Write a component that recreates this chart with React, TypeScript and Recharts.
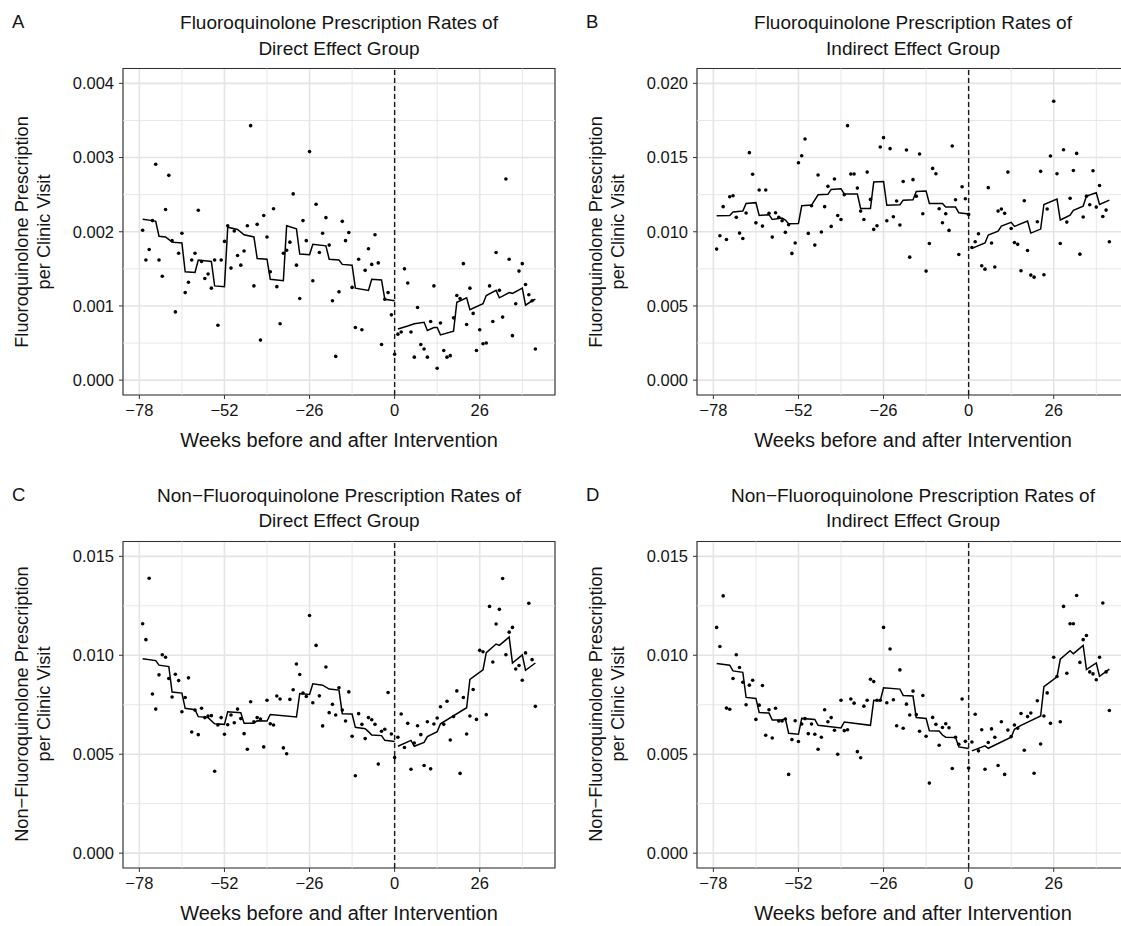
import { ComposedChart, Scatter, Line, XAxis, YAxis, CartesianGrid, ReferenceLine, ReferenceArea } from 'recharts';

// weeks relative to the intervention, one observation per week
const weeks = Array.from({ length: 121 }, (_, i) => i - 77);
const xTicks = [-78, -52, -26, 0, 26];
const xMinor = [-65, -39, -13, 13, 39];

// ─── observed weekly rates ─────────────────────────────────────
const fqDirect = [
  0.00202, 0.00162, 0.00176, 0.00215, 0.00291, 0.00162, 0.0014, 0.0023, 0.00276, 0.00188,
  0.00092, 0.00171, 0.00198, 0.00118, 0.00132, 0.00162, 0.00171, 0.00229, 0.0016, 0.00137,
  0.00143, 0.00124, 0.00162, 0.00074, 0.00162, 0.00187, 0.00208, 0.00151, 0.00201, 0.00168,
  0.00155, 0.00174, 0.00208, 0.00343, 0.00127, 0.0021, 0.00054, 0.00222, 0.00193, 0.00146,
  0.00231, 0.00126, 0.00076, 0.00171, 0.00175, 0.00186, 0.00251, 0.00155, 0.0011, 0.00215,
  0.00188, 0.00308, 0.00134, 0.00237, 0.00172, 0.00198, 0.00219, 0.00182, 0.00107, 0.00032,
  0.00119, 0.00214, 0.00188, 0.00199, 0.00125, 0.00071, 0.00163, 0.00068, 0.00148, 0.00177,
  0.00156, 0.00196, 0.00158, 0.00048, 0.00109, 0.00118, 0.00088,
  0.00035, 0.00062, 0.00065, 0.0015, 0.00131, 0.00065, 0.00031, 0.00098, 0.00048, 0.00042,
  0.00031, 0.00079, 0.00127, 0.00016, 0.00077, 0.0004, 0.00031, 0.00033, 0.00084, 0.00114,
  0.0011, 0.00157, 0.00075, 0.00124, 0.0009, 0.0004, 0.00068, 0.00049, 0.0005, 0.00127,
  0.00079, 0.00172, 0.00121, 0.00085, 0.00271, 0.00163, 0.0006, 0.00103, 0.00147, 0.00157,
  0.00129, 0.00115, 0.00107, 0.00042,
];

const fqIndirect = [
  0.00883, 0.00973, 0.01169, 0.00948, 0.01236, 0.01243, 0.01097, 0.00991, 0.00955, 0.01126,
  0.01533, 0.01387, 0.0106, 0.01281, 0.01038, 0.01281, 0.01124, 0.00964, 0.01128, 0.01097,
  0.01074, 0.00996, 0.01047, 0.00854, 0.00924, 0.01465, 0.01512, 0.01625, 0.00989, 0.01175,
  0.0091, 0.01382, 0.00998, 0.01169, 0.01306, 0.01036, 0.01355, 0.0111, 0.01083, 0.0125,
  0.01715, 0.01389, 0.01389, 0.01294, 0.01139, 0.01083, 0.01402, 0.01218, 0.01016, 0.0104,
  0.01571, 0.01634, 0.01074, 0.0156, 0.01101, 0.01207, 0.01045, 0.01339, 0.01551, 0.00829,
  0.01351, 0.0124, 0.01524, 0.01121, 0.00735, 0.00921, 0.01427, 0.01391, 0.01155, 0.01061,
  0.01121, 0.01009, 0.01578, 0.01216, 0.00847, 0.01303, 0.01222,
  0.01117, 0.00894, 0.00933, 0.00987, 0.00771, 0.00748, 0.01297, 0.00924, 0.00762, 0.01139,
  0.01153, 0.01124, 0.01402, 0.01022, 0.00928, 0.00915, 0.00737, 0.01209, 0.00874, 0.00708,
  0.00694, 0.01067, 0.01407, 0.0071, 0.01153, 0.0151, 0.01879, 0.01391, 0.00921, 0.01553,
  0.01065, 0.01225, 0.01413, 0.01528, 0.00849, 0.01099, 0.0124, 0.01182, 0.01411, 0.01166,
  0.01312, 0.01103, 0.01146, 0.00933,
];

const nonFqDirect = [
  0.01159, 0.01079, 0.01389, 0.00804, 0.00728, 0.00901, 0.01003, 0.0099, 0.00883, 0.00789,
  0.00904, 0.00872, 0.00715, 0.00787, 0.00886, 0.00612, 0.00723, 0.00599, 0.00732, 0.00685,
  0.00693, 0.00695, 0.00414, 0.00648, 0.00685, 0.00601, 0.00649, 0.00698, 0.00659, 0.00728,
  0.0068, 0.00604, 0.00525, 0.00765, 0.00664, 0.00685, 0.00678, 0.00537, 0.00773, 0.00654,
  0.00648, 0.00794, 0.00779, 0.00532, 0.00502, 0.00777, 0.00826, 0.00956, 0.00903, 0.00809,
  0.00792, 0.01201, 0.0076, 0.0105, 0.00795, 0.00643, 0.00941, 0.0071, 0.00752, 0.00698,
  0.00836, 0.00723, 0.00668, 0.00815, 0.00591, 0.00391, 0.00705, 0.00651, 0.00579, 0.00685,
  0.00674, 0.00651, 0.0045, 0.00616, 0.00626, 0.00812, 0.00602,
  0.00483, 0.00586, 0.00703, 0.00534, 0.00656, 0.00424, 0.00557, 0.00644, 0.00599, 0.00443,
  0.00664, 0.00426, 0.00653, 0.00683, 0.0074, 0.00651, 0.00768, 0.00572, 0.0069, 0.0082,
  0.00403, 0.00787, 0.00602, 0.00693, 0.00827, 0.00676, 0.01025, 0.01018, 0.007, 0.01247,
  0.00966, 0.01158, 0.01232, 0.01388, 0.01003, 0.01117, 0.01141, 0.00931, 0.00948, 0.00874,
  0.01012, 0.01263, 0.00978, 0.00742,
];

const nonFqIndirect = [
  0.01141, 0.01044, 0.013, 0.00733, 0.00727, 0.00883, 0.01003, 0.00938, 0.00864, 0.0075,
  0.00849, 0.00874, 0.00676, 0.00748, 0.00847, 0.00596, 0.00725, 0.00582, 0.00732, 0.00668,
  0.00668, 0.00678, 0.00398, 0.00574, 0.00669, 0.00564, 0.00653, 0.0068, 0.00604, 0.00653,
  0.00601, 0.00525, 0.00586, 0.00725, 0.00664, 0.00685, 0.00621, 0.005, 0.00773, 0.00619,
  0.00624, 0.00779, 0.00758, 0.00513, 0.00482, 0.00743, 0.00773, 0.00879, 0.00867, 0.00773,
  0.00773, 0.01141, 0.0076, 0.01032, 0.00775, 0.00644, 0.00926, 0.00631, 0.00753, 0.00698,
  0.00819, 0.007, 0.00616, 0.00797, 0.00591, 0.00354, 0.00686, 0.00651, 0.00545, 0.00635,
  0.00654, 0.00634, 0.00428, 0.00586, 0.0055, 0.00779, 0.00565,
  0.0043, 0.00562, 0.00702, 0.00517, 0.00624, 0.00424, 0.00559, 0.00628, 0.00586, 0.00443,
  0.00664, 0.00398, 0.00622, 0.00589, 0.00648, 0.00631, 0.00706, 0.0052, 0.0069, 0.00708,
  0.00404, 0.0077, 0.00552, 0.00693, 0.0081, 0.00656, 0.0099, 0.00893, 0.00664, 0.01247,
  0.00909, 0.01159, 0.01159, 0.01302, 0.00964, 0.01079, 0.011, 0.00916, 0.00906, 0.00876,
  0.0099, 0.01264, 0.00916, 0.00721,
];

// ─── fitted model (vertices where the fit changes slope) ───────
const fitFqDirectPre = [
  [-77, 0.00217], [-74, 0.00215], [-73, 0.00214], [-72, 0.00194], [-70, 0.00193], [-68, 0.00186],
  [-65, 0.00185], [-64, 0.00146], [-61, 0.00145], [-60, 0.00162], [-56, 0.0016], [-55, 0.00127],
  [-52, 0.00126], [-51, 0.00206], [-48, 0.00203], [-46, 0.00196], [-43, 0.00193], [-42, 0.00164],
  [-39, 0.00163], [-38, 0.00136], [-34, 0.00134], [-33, 0.00208], [-30, 0.00204], [-29, 0.0017],
  [-26, 0.00169], [-25, 0.00183], [-21, 0.00181], [-20, 0.00163], [-17, 0.00162], [-16, 0.00156],
  [-13, 0.00155], [-12, 0.00124], [-8, 0.00121], [-7, 0.00136], [-4, 0.00135], [-3, 0.00109], [0, 0.00107],
];
const fitFqDirectPost = [
  [1, 0.00069], [4, 0.00073], [6, 0.00076], [9, 0.00078], [10, 0.00067], [12, 0.00071], [13, 0.00071],
  [14, 0.00061], [18, 0.00066], [19, 0.00105], [22, 0.00111], [23, 0.00095], [27, 0.00103], [28, 0.00114],
  [31, 0.00121], [32, 0.00111], [35, 0.00118], [36, 0.00117], [39, 0.00124], [40, 0.00101], [42, 0.00107], [43, 0.00109],
];
const fitFqIndirectPre = [
  [-77, 0.01108], [-73, 0.0111], [-72, 0.01133], [-69, 0.01139], [-68, 0.01191], [-65, 0.01196],
  [-64, 0.0111], [-61, 0.01115], [-60, 0.01083], [-57, 0.01092], [-56, 0.01079], [-55, 0.01054],
  [-52, 0.01056], [-51, 0.01175], [-48, 0.0118], [-46, 0.01249], [-43, 0.01252], [-42, 0.01285],
  [-39, 0.0129], [-38, 0.01254], [-34, 0.01254], [-33, 0.01157], [-30, 0.01157], [-29, 0.01335],
  [-26, 0.01339], [-25, 0.01178], [-21, 0.01182], [-20, 0.01213], [-17, 0.01216], [-16, 0.01272],
  [-13, 0.01274], [-12, 0.01191], [-8, 0.01191], [-7, 0.01166], [-4, 0.01166], [-3, 0.01128], [0, 0.01119],
];
const fitFqIndirectPost = [
  [1, 0.00888], [5, 0.00924], [6, 0.00978], [9, 0.01004], [10, 0.01038], [13, 0.01063], [14, 0.01036],
  [18, 0.01072], [19, 0.00991], [22, 0.01018], [23, 0.01184], [27, 0.0122], [28, 0.01079], [31, 0.01112],
  [32, 0.01144], [35, 0.01173], [36, 0.0124], [39, 0.01263], [40, 0.01184], [43, 0.01213],
];
const fitNonFqDirectPre = [
  [-77, 0.00983], [-73, 0.00973], [-72, 0.0095], [-69, 0.00943], [-68, 0.00814], [-65, 0.00809],
  [-64, 0.00732], [-61, 0.00725], [-60, 0.0069], [-57, 0.00685], [-55, 0.00654], [-52, 0.00651],
  [-51, 0.00715], [-47, 0.0071], [-46, 0.00656], [-43, 0.00656], [-42, 0.00669], [-39, 0.00668],
  [-38, 0.00701], [-30, 0.00688], [-29, 0.00807], [-26, 0.00802], [-25, 0.00856], [-22, 0.00849],
  [-20, 0.00829], [-17, 0.00824], [-16, 0.00705], [-13, 0.00703], [-12, 0.00636], [-9, 0.00629],
  [-8, 0.00614], [-7, 0.00597], [-4, 0.00594], [-3, 0.0057], [0, 0.00564],
];
const fitNonFqDirectPost = [
  [1, 0.0054], [5, 0.0057], [6, 0.0054], [9, 0.0056], [10, 0.00589], [13, 0.00614], [14, 0.00654],
  [22, 0.00735], [23, 0.00878], [27, 0.00926], [28, 0.01013], [31, 0.01057], [32, 0.0105], [35, 0.01092],
  [36, 0.00961], [39, 0.01002], [40, 0.00924], [43, 0.00961],
];
const fitNonFqIndirectPre = [
  [-77, 0.00958], [-73, 0.0095], [-72, 0.00921], [-69, 0.00914], [-68, 0.00787], [-65, 0.00782],
  [-64, 0.00711], [-61, 0.00708], [-60, 0.00673], [-57, 0.00673], [-56, 0.0068], [-55, 0.00606],
  [-52, 0.00601], [-51, 0.00681], [-47, 0.00676], [-46, 0.00646], [-39, 0.00633], [-38, 0.00663],
  [-30, 0.00646], [-29, 0.00773], [-27, 0.0077], [-26, 0.00836], [-21, 0.00829], [-20, 0.00797],
  [-17, 0.00794], [-16, 0.00685], [-13, 0.00681], [-12, 0.00619], [-9, 0.00617], [-8, 0.00597],
  [-7, 0.00586], [-4, 0.00584], [-3, 0.00537], [0, 0.00529],
];
const fitNonFqIndirectPost = [
  [1, 0.00517], [5, 0.00542], [6, 0.0053], [13, 0.00586], [14, 0.00626], [16, 0.00646], [22, 0.00693],
  [23, 0.00842], [27, 0.00891], [28, 0.0098], [31, 0.01023], [32, 0.01008], [35, 0.0105], [36, 0.00928],
  [39, 0.00961], [40, 0.00894], [43, 0.0093],
];

// ─── axes ─────────────────────────────────────────────────────
const fqDirectTicks = [0, 0.001, 0.002, 0.003, 0.004];
const fqDirectMinor = [0.0005, 0.0015, 0.0025, 0.0035];
const fqIndirectTicks = [0, 0.005, 0.01, 0.015, 0.02];
const fqIndirectMinor = [0.0025, 0.0075, 0.0125, 0.0175];
const nonFqTicks = [0, 0.005, 0.01, 0.015];
const nonFqMinor = [0.0025, 0.0075, 0.0125];

const FONT = '"Liberation Sans", Arial, Helvetica, sans-serif';
const INK = '#141414';
const GRID = '#e4e4e4';

const CHART_W = 565;
const CHART_H = 463;
const X_DOMAIN: [number, number] = [-83, 49];

const fmtWeek = (v: number) => (v < 0 ? `\u2212${Math.abs(v)}` : `${v}`);
const fmtRate = (v: number) => v.toFixed(3);

const Dot = (props: any) => <circle cx={props.cx} cy={props.cy} r={1.8} fill="#000" />;

interface PanelProps {
  left: number;
  top: number;
  letter: string;
  title: string[];
  yTitle: string[];
  values: number[];
  fitPre: number[][];
  fitPost: number[][];
  yTicks: number[];
  yMinor: number[];
  yDomain: [number, number];
}

function Panel({ left, top, letter, title, yTitle, values, fitPre, fitPost, yTicks, yMinor, yDomain }: PanelProps) {
  const points = weeks.map((x, i) => ({ x, y: values[i] }));
  const pre = fitPre.map(([x, y]) => ({ x, y }));
  const post = fitPost.map(([x, y]) => ({ x, y }));
  const plotCx = 123 + 216;
  const plotCy = 68.5 + 163;

  return (
    <div style={{ position: 'absolute', left, top, width: CHART_W, height: CHART_H, fontFamily: FONT, color: INK }}>
      <div style={{ position: 'absolute', left: 12, top: 11, fontSize: 18.5 }}>{letter}</div>
      <div
        style={{
          position: 'absolute',
          left: plotCx - 250,
          width: 500,
          top: 10,
          textAlign: 'center',
          fontSize: 19,
          lineHeight: '25.5px',
          whiteSpace: 'nowrap',
        }}
      >
        {title[0]}
        <br />
        {title[1]}
      </div>
      <div
        style={{
          position: 'absolute',
          left: 33 - 180,
          top: plotCy - 22,
          width: 360,
          height: 44,
          textAlign: 'center',
          fontSize: 18.2,
          lineHeight: '22px',
          whiteSpace: 'nowrap',
          transform: 'rotate(-90deg)',
        }}
      >
        {yTitle[0]}
        <br />
        {yTitle[1]}
      </div>
      <div
        style={{
          position: 'absolute',
          left: plotCx - 250,
          width: 500,
          top: 428,
          textAlign: 'center',
          fontSize: 20,
          lineHeight: '25px',
          whiteSpace: 'nowrap',
        }}
      >
        Weeks before and after Intervention
      </div>

      <ComposedChart
        width={CHART_W}
        height={CHART_H}
        margin={{ top: 68.5, right: 10, bottom: 38, left: 0 }}
        style={{ position: 'absolute', left: 0, top: 0 }}
      >
        <XAxis
          type="number"
          dataKey="x"
          domain={X_DOMAIN}
          ticks={xTicks}
          allowDataOverflow
          tickFormatter={fmtWeek}
          height={30}
          axisLine={false}
          tickLine={{ stroke: '#333', strokeWidth: 1 }}
          tickSize={4}
          tickMargin={5}
          tick={{ fill: INK, fontSize: 16.5, fontFamily: FONT }}
        />
        <YAxis
          type="number"
          dataKey="y"
          domain={yDomain}
          ticks={yTicks}
          allowDataOverflow
          tickFormatter={fmtRate}
          width={123}
          axisLine={false}
          tickLine={{ stroke: '#333', strokeWidth: 1 }}
          tickSize={4}
          tickMargin={5}
          tick={{ fill: INK, fontSize: 16.5, fontFamily: FONT }}
        />
        <CartesianGrid stroke={GRID} strokeWidth={1.6} />
        {xMinor.map((v) => (
          <ReferenceLine key={`xm${v}`} x={v} stroke={GRID} strokeWidth={0.9} />
        ))}
        {yMinor.map((v) => (
          <ReferenceLine key={`ym${v}`} y={v} stroke={GRID} strokeWidth={0.9} />
        ))}
        <ReferenceLine x={0} stroke="#1a1a1a" strokeWidth={1.4} strokeDasharray="5 3" />
        <Scatter data={points} dataKey="y" shape={Dot} isAnimationActive={false} />
        <Line data={pre} dataKey="y" type="linear" stroke="#000" strokeWidth={1.5} dot={false} isAnimationActive={false} />
        <Line data={post} dataKey="y" type="linear" stroke="#000" strokeWidth={1.5} dot={false} isAnimationActive={false} />
        <ReferenceArea
          x1={X_DOMAIN[0]}
          x2={X_DOMAIN[1]}
          y1={yDomain[0]}
          y2={yDomain[1]}
          fill="none"
          stroke="#333"
          strokeWidth={1.1}
          ifOverflow="visible"
        />
      </ComposedChart>
    </div>
  );
}

export default function App() {
  return (
    <div
      style={{
        position: 'absolute',
        left: 0,
        top: 0,
        width: 1121,
        height: 926,
        overflow: 'hidden',
        background: '#fff',
      }}
    >
      <Panel
        left={0}
        top={0}
        letter="A"
        title={['Fluoroquinolone Prescription Rates of', 'Direct Effect Group']}
        yTitle={['Fluoroquinolone Prescription', 'per Clinic Visit']}
        values={fqDirect}
        fitPre={fitFqDirectPre}
        fitPost={fitFqDirectPost}
        yTicks={fqDirectTicks}
        yMinor={fqDirectMinor}
        yDomain={[-0.0002, 0.0042]}
      />
      <Panel
        left={574}
        top={0}
        letter="B"
        title={['Fluoroquinolone Prescription Rates of', 'Indirect Effect Group']}
        yTitle={['Fluoroquinolone Prescription', 'per Clinic Visit']}
        values={fqIndirect}
        fitPre={fitFqIndirectPre}
        fitPost={fitFqIndirectPost}
        yTicks={fqIndirectTicks}
        yMinor={fqIndirectMinor}
        yDomain={[-0.001, 0.021]}
      />
      <Panel
        left={0}
        top={472.5}
        letter="C"
        title={['Non\u2212Fluoroquinolone Prescription Rates of', 'Direct Effect Group']}
        yTitle={['Non\u2212Fluoroquinolone Prescription', 'per Clinic Visit']}
        values={nonFqDirect}
        fitPre={fitNonFqDirectPre}
        fitPost={fitNonFqDirectPost}
        yTicks={nonFqTicks}
        yMinor={nonFqMinor}
        yDomain={[-0.00075, 0.01575]}
      />
      <Panel
        left={574}
        top={472.5}
        letter="D"
        title={['Non\u2212Fluoroquinolone Prescription Rates of', 'Indirect Effect Group']}
        yTitle={['Non\u2212Fluoroquinolone Prescription', 'per Clinic Visit']}
        values={nonFqIndirect}
        fitPre={fitNonFqIndirectPre}
        fitPost={fitNonFqIndirectPost}
        yTicks={nonFqTicks}
        yMinor={nonFqMinor}
        yDomain={[-0.00075, 0.01575]}
      />
    </div>
  );
}
